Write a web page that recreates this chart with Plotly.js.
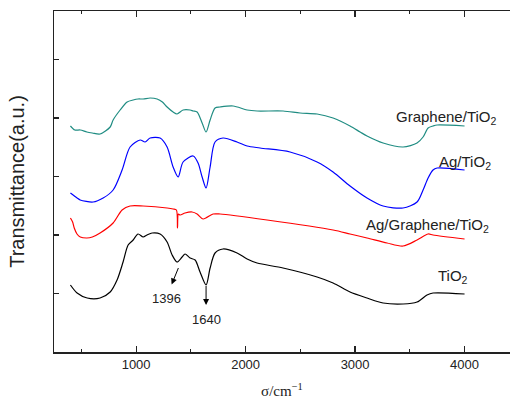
<!DOCTYPE html>
<html>
<head>
<meta charset="utf-8">
<script src="https://cdn.plot.ly/plotly-3.0.1.min.js"></script>
<style>html,body{margin:0;padding:0;background:#fff;overflow:hidden}#chart{width:510px;height:401px}</style>
</head>
<body>
<div id="chart"></div>
<script>
// Wavenumbers (cm^-1) and transmittance (arbitrary units, stacked curves)
var grapheneX = [400,440,490,550,600,671,763,790,854,918,973,1018,1064,1128,1192,1240,1283,1338,1374,1429,1493,1521,1557,1603,1639,1676,1721,1767,1886,2014,2105,2342,2498,2653,2799,2954,3046,3109,3256,3438,3566,3621,3667,3712,3749,4000];
var grapheneY = [226,222,222,220,219,218,225,232,242,250,252,253,253,254,253,250,245,240,238,242,242,241,240,229,220,232,244,245,246,242,241,241,239,238,234,226,220,216,209,205,209,215,224,226,227,226];

var agX = [400,461,489,607,699,790,872,945,1037,1082,1128,1219,1283,1338,1384,1429,1521,1566,1603,1639,1676,1721,1794,1922,2014,2132,2406,2653,2799,2954,3109,3256,3438,3566,3621,3667,3712,3749,4000];
var agY = [159,154,152,150,154,162,182,205,212,210,214,214,205,185,175,190,196,189,175,164,185,210,214,210,206,204,200,190,180,166,154,146,144,150,162,174,182,184,182];

var agGrX = [400,420,435,460,490,550,600,671,790,872,945,1064,1283,1338,1368,1378,1386,1402,1447,1511,1557,1612,1703,1767,2196,2799,2954,3109,3292,3438,3566,3667,3712,4000];
var agGrY = [134,130,124,118,115,114,115,119,129,142,146,146,144,143,142,124,138,137,139,140,138,133,138,138,132,122,118,114,109,106,112,118,117,113];

var tioX = [400,461,553,671,763,826,881,927,973,1018,1064,1100,1146,1219,1283,1329,1374,1420,1447,1493,1539,1584,1639,1676,1721,1794,1922,2014,2105,2342,2653,2799,2954,3109,3256,3438,3566,3657,3712,4000];
var tioY = [67,59,54,54,60,72,90,107,112,118,115,117,119,118,110,97,90,95,98,94,92,80,67,84,99,103,99,93,89,84,75,69,60,54,49,48,50,57,59,58];

var seriesNames = ['Graphene/TiO<sub>2</sub>','Ag/TiO<sub>2</sub>','Ag/Graphene/TiO<sub>2</sub>','TiO<sub>2</sub>'];
var seriesColors = ['#1f8c82','#0000ff','#ff0000','#000000'];
var labelX = [3831,4005,3658,3890];
var labelY = [235,190,127,76];

// Peak markers: arrow starts just under the absorption dip and points to the label
var peakLabels = ['1396','1640'];
var peakTextX = [1274,1639];
var peakTextY = [54,33];
var arrowStartX = [1386,1639];
var arrowStartY = [84,66];

var yTicks = [0,58.5,117,175.5,234,292.5];

var xs = [grapheneX, agX, agGrX, tioX];
var ys = [grapheneY, agY, agGrY, tioY];
var traces = xs.map(function(x,i){
  return {x:x, y:ys[i], type:'scatter', mode:'lines', name:seriesNames[i],
          line:{color:seriesColors[i], width:1.2, shape:'spline', smoothing:0.8}, hoverinfo:'skip'};
});

var annotations = [];
for (var i=0;i<seriesNames.length;i++){
  annotations.push({x:labelX[i], y:labelY[i], xref:'x', yref:'y', text:seriesNames[i], showarrow:false,
    font:{family:'Liberation Sans, Arial, sans-serif', size:15, color:'#222'}});
}
for (var j=0;j<peakLabels.length;j++){
  annotations.push({x:arrowStartX[j], y:arrowStartY[j], xref:'x', yref:'y', ax:peakTextX[j], ay:peakTextY[j],
    axref:'x', ayref:'y', text:peakLabels[j], showarrow:true, arrowside:'start', startarrowhead:2, startarrowsize:1.2,
    startstandoff:6, arrowwidth:1, arrowcolor:'#000', borderpad:0,
    font:{family:'Liberation Sans, Arial, sans-serif', size:13, color:'#222'}});
}

var layout = {
  width:510, height:401,
  margin:{l:54, r:0, t:11, b:49},
  paper_bgcolor:'#fff', plot_bgcolor:'#fff',
  showlegend:false,
  font:{family:'Liberation Sans, Arial, sans-serif', color:'#222'},
  xaxis:{range:[250,4415], tick0:0, dtick:1000, ticks:'inside', ticklen:6, tickwidth:1.2, tickcolor:'#222',
    minor:{dtick:500, tick0:0, ticks:'inside', ticklen:3, tickwidth:1.2, tickcolor:'#222'},
    showline:true, linecolor:'#222', linewidth:1.5, mirror:'ticks', showgrid:false, zeroline:false,
    tickfont:{size:13, color:'#222'},
    title:{text:'σ/cm<sup>−1</sup>', font:{family:'Liberation Serif, Times New Roman, serif', size:15, color:'#222'}, standoff:14}},
  yaxis:{range:[0,341], tickmode:'array', tickvals:yTicks, ticks:'inside', ticklen:5, tickwidth:1.2, tickcolor:'#222',
    showticklabels:false, showline:true, linecolor:'#222', linewidth:1.5, showgrid:false, zeroline:false,
    title:{text:'Transmittance(a.u.)', font:{size:20, color:'#222'}, standoff:22}},
  annotations:annotations
};
Plotly.newPlot('chart', traces, layout, {staticPlot:true, displayModeBar:false});
</script>
</body>
</html>
